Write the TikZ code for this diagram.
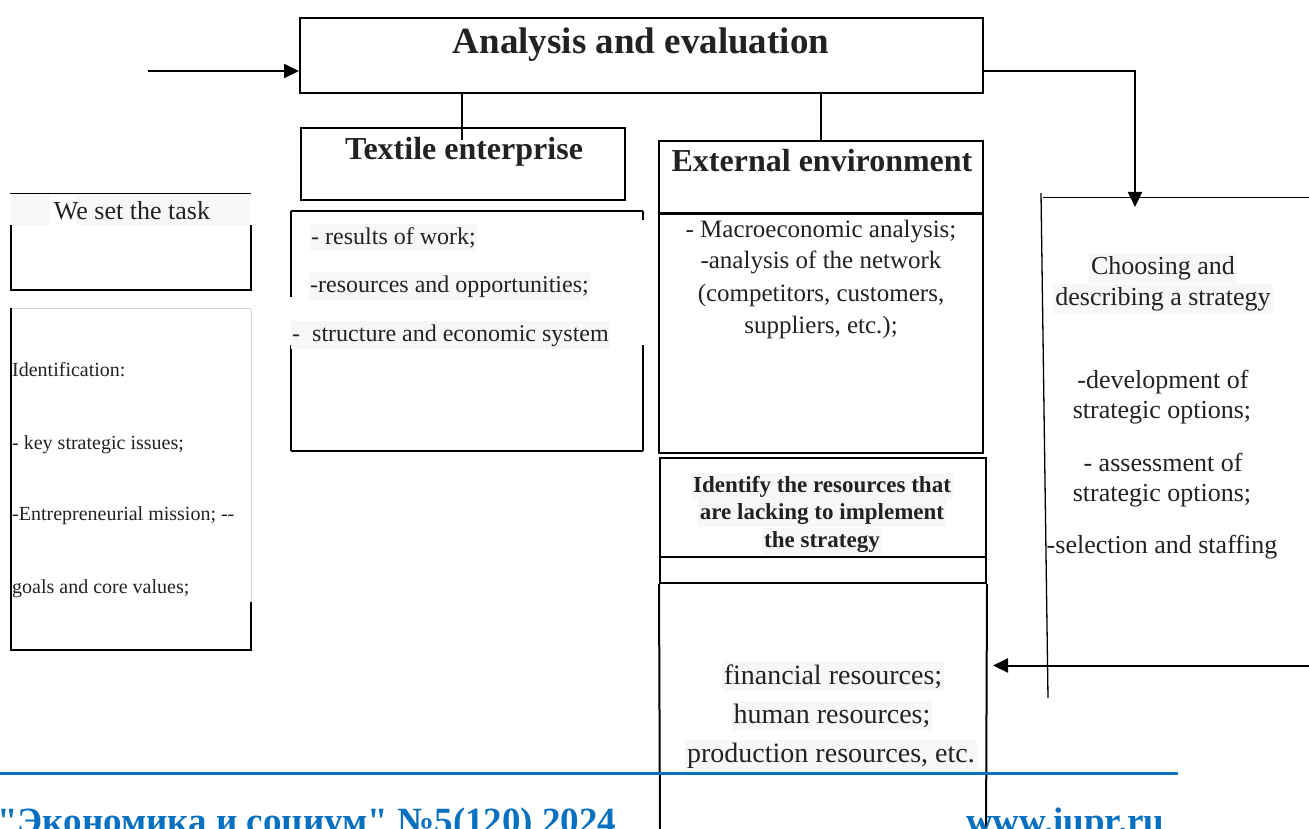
\documentclass[tikz,border=0pt]{standalone}
\usepackage{fontspec}
\setmainfont{Liberation Serif}
\newfontfamily\footfont[Ligatures=TeXOff]{Liberation Serif}
\usetikzlibrary{arrows.meta,calc}
\definecolor{ink}{HTML}{222222}
\definecolor{hl}{HTML}{F6F7F9}
\definecolor{pale}{HTML}{D8D8D8}
\definecolor{foot}{HTML}{0870C1}
\newcommand{\fs}[1]{\fontsize{#1}{#1}\selectfont}
\tikzset{
  boxframe/.style={draw=black, line width=2pt, inner sep=0pt},
  thinline/.style={draw=black, line width=1.3pt},
  arr/.style={draw=black, line width=2pt, -{Triangle[length=15pt,width=14pt]}},
  txt/.style={inner sep=0pt, anchor=base, text=ink},
  txtl/.style={inner sep=0pt, anchor=base west, text=ink},
  hltxt/.style={txt, fill=hl, inner xsep=2pt, inner ysep=3pt},
  hltxtl/.style={txtl, fill=hl, inner xsep=1pt, inner ysep=3pt},
  foottxt/.style={inner sep=0pt, anchor=base west, text=foot, font=\footfont\fs{37}\bfseries}
}
\begin{document}
\begin{tikzpicture}[x=1pt,y=-1pt]
\useasboundingbox (0,0) rectangle (1309,829);
\fill[white] (0,0) rectangle (1309,829);

% ---------- top box ----------
\node[boxframe, minimum width=683pt, minimum height=75pt] (ae) at (641.5,55.5) {};
\node[txt, font=\fs{37}\bfseries] (aet) at (641,54) {Analysis and evaluation};

% ---------- textile enterprise ----------
\node[boxframe, minimum width=324pt, minimum height=72pt] (te) at (463,164) {};
\coordinate (tl) at (462,140);
\draw[black, line width=2pt] (tl |- ae.south) -- (tl);
\node[txt, font=\fs{32}\bfseries] (tet) at (464,160) {Textile enterprise};

% textile content box (partially hidden borders)
\node[minimum width=352pt, minimum height=240pt, inner sep=0pt] (tcb) at (467,331) {};
\draw[black, line width=2pt] (291,211) -- (643,211);
\draw[black, line width=2pt] (291,451) -- (643,451);
\draw[black, line width=2pt] (291,211) -- (291,297);
\draw[black, line width=2pt] (291,345) -- (291,451);
\draw[black, line width=2pt] (643,211) -- (643,220);
\draw[black, line width=2pt] (643,345) -- (643,451);
\node[hltxtl, font=\fs{24}] (tc1) at (310,244) {- results of work;};
\node[hltxtl, font=\fs{24}] (tc2) at (309,292) {-resources and opportunities;};
\node[hltxtl, font=\fs{24}] (tc3) at (291,341) {-\ \ structure and economic system};

% ---------- external environment ----------
\node[boxframe, minimum width=324pt, minimum height=72pt] (eh) at (821,177) {};
\draw[black, line width=2pt] (ae.south -| eh.north) -- (eh.north);
\node[txt, font=\fs{32}\bfseries] (eht) at (822,172) {External environment};
\node[boxframe, minimum width=324pt, minimum height=239pt] (el) at (821,333.5) {};
\node[txt, font=\fs{25}] (el1) at (821,237) {- Macroeconomic analysis;};
\node[txt, font=\fs{25}] (el2) at (821,269) {-analysis of the network};
\node[txt, font=\fs{25}] (el3) at (821,301) {(competitors, customers,};
\node[txt, font=\fs{25}] (el4) at (821,333) {suppliers, etc.);};

% ---------- identify resources ----------
\node[boxframe, minimum width=326pt, minimum height=99pt] (ir) at (823,507.5) {};
\node[boxframe, minimum width=326pt, minimum height=26pt] (st) at (823,570) {};
\draw[black, line width=2pt] (st.south west) -- (660,840);
\draw[black, line width=2pt] (st.south east) -- (986,840);
\node[hltxt, font=\fs{23}\bfseries] (ir1) at (822,492) {Identify the resources that};
\node[hltxt, font=\fs{23}\bfseries] (ir2) at (822,519) {are lacking to implement};
\node[hltxt, font=\fs{23}\bfseries] (ir3) at (822,547) {the strategy};
\node[hltxt, font=\fs{28}] (fr1) at (833,684) {financial resources;};
\node[hltxt, font=\fs{28}] (fr2) at (832,723) {human resources;};
\node[hltxt, font=\fs{28}] (fr3) at (831,762) {production resources, etc.};

% ---------- left: we set the task ----------
\draw[black, line width=1.2pt] (10,193.5) -- (251,193.5);
\fill[hl] (11,194.5) rectangle (50,225);
\fill[hl] (76,194.5) rectangle (250,225);
\draw[black, line width=2pt] (11,225) -- (11,290) -- (251,290) -- (251,225);
\node[txt, font=\fs{26}] (wst) at (132,219) {We set the task};

% ---------- left: identification ----------
\draw[pale, line width=1pt] (11,308.5) -- (251,308.5);
\draw[pale, line width=1pt] (251,308.5) -- (251,602);
\draw[black, line width=2pt] (251,602) -- (251,650) -- (11,650) -- (11,308);
\node[txtl, font=\fs{20}] (id1) at (12,376) {Identification:};
\node[txtl, font=\fs{20}] (id2) at (12,449) {- key strategic issues;};
\node[txtl, font=\fs{20}] (id3) at (12,520) {-Entrepreneurial mission; -{}-};
\node[txtl, font=\fs{20}] (id4) at (12,593) {goals and core values;};

% ---------- right: strategy ----------
\draw[thinline] (1043,197.5) -- (1309,197.5);
\draw[thinline] (1041,193) -- (1048,698);
\node[hltxt, font=\fs{26}] (cs1) at (1163,274) {Choosing and};
\node[hltxt, font=\fs{26}] (cs2) at (1163,305) {describing a strategy};
\node[txt, font=\fs{26}] (cs3) at (1163,388) {-development of};
\node[txt, font=\fs{26}] (cs4) at (1162,418) {strategic options;};
\node[txt, font=\fs{26}] (cs5) at (1163,471) {- assessment of};
\node[txt, font=\fs{26}] (cs6) at (1162,501) {strategic options;};
\node[txt, font=\fs{26}] (cs7) at (1162,553) {-selection and staffing};

% ---------- connectors ----------
\coordinate (lin) at (148,71);
\draw[arr] (lin) -- (lin -| ae.west);
\coordinate (rbend) at (1135,71);
\coordinate (rtop) at (1135,207);
\draw[arr] (rbend -| ae.east) -- (rbend) -- (rtop);
\coordinate (rin) at (1309,665.5);
\coordinate (rtip) at (993,665.5);
\draw[arr] (rin) -- (rtip);

% ---------- footer ----------
\draw[foot, line width=3pt] (0,773) -- (1178,773);
\node[foottxt] (ft1) at (-3,833) {"Экономика и социум" №5(120) 2024};
\node[foottxt] (ft2) at (966,833) {www.iupr.ru};
\end{tikzpicture}
\end{document}
